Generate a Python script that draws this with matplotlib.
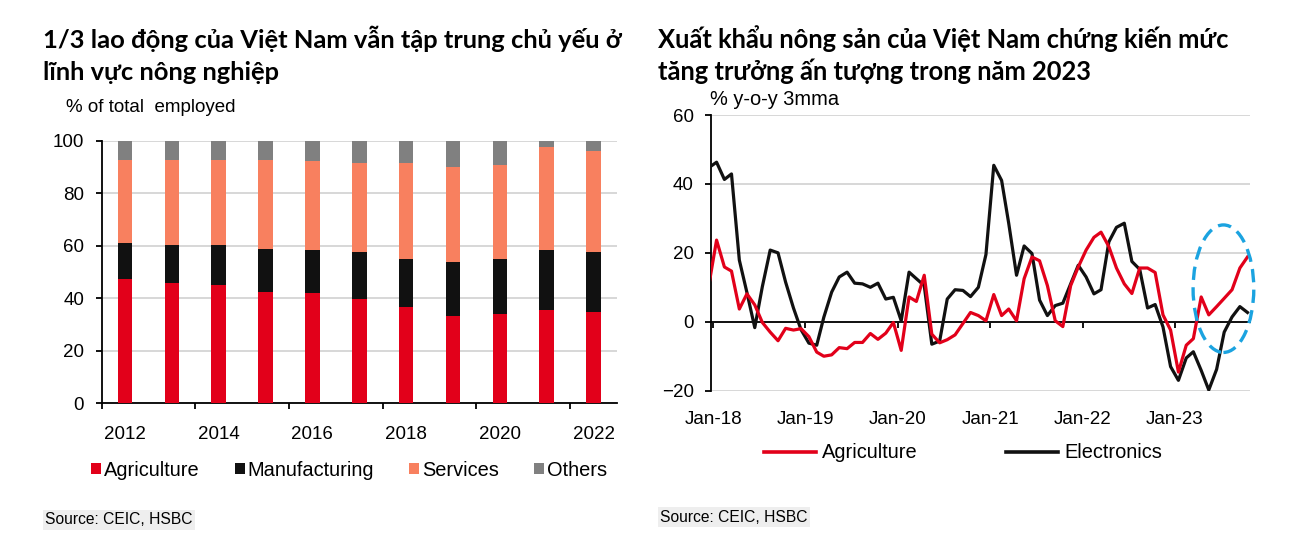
import matplotlib
matplotlib.use("Agg")
import matplotlib.pyplot as plt
import matplotlib.dates as mdates
from matplotlib import font_manager as fm
from matplotlib.patches import Ellipse, Patch
from matplotlib.lines import Line2D
import numpy as np
import pandas as pd

# ---------------- data: left chart (% of total employed) ----------------
years = [2012, 2013, 2014, 2015, 2016, 2017, 2018, 2019, 2020, 2021, 2022]
agriculture = [47.2, 45.9, 45.2, 42.5, 41.9, 39.8, 36.5, 33.2, 33.9, 35.4, 34.6]
manufacturing = [13.7, 14.4, 15.1, 16.4, 16.3, 17.8, 18.4, 20.4, 21.0, 22.8, 23.0]
services = [31.7, 32.3, 32.3, 33.7, 33.9, 33.9, 36.6, 36.5, 35.8, 39.3, 38.5]
others = [7.4, 7.4, 7.4, 7.4, 7.9, 8.5, 8.5, 9.9, 9.3, 2.5, 3.9]
bar_series = ["Agriculture", "Manufacturing", "Services", "Others"]

# ---------------- data: right chart (% y-o-y 3mma) ----------------
months = pd.date_range("2017-12-01", periods=71, freq="MS") + pd.Timedelta(days=14)
agri_exports = [10.4, 23.7, 15.9, 14.7, 3.7, 8.1, 4.9, -0.2, -3.0, -5.5,
                -1.9, -2.4, -2.0, -4.3, -8.8, -10.0, -9.6, -7.5, -7.8, -6.0,
                -6.0, -3.4, -5.1, -3.3, -0.2, -8.3, 7.2, 5.9, 13.5, -3.6,
                -6.1, -5.2, -3.8, -0.5, 2.7, 1.8, 0.3, 7.9, 1.8, 3.7,
                0.3, 12.5, 18.8, 17.7, 10.5, 0.3, -1.4, 10.5, 15.9, 20.8,
                24.5, 26.0, 21.8, 15.6, 11.0, 8.2, 15.6, 15.6, 14.3, 2.0,
                -2.4, -14.6, -6.8, -4.9, 7.2, 2.0, 4.4, 6.8, 9.3, 15.6,
                18.8]
electronics_exports = [44.7, 46.3, 41.3, 42.9, 17.9, 8.5, -1.7, 10.2, 20.8, 20.0,
                       11.5, 4.0, -2.3, -6.2, -6.8, 1.3, 8.6, 13.0, 14.4, 11.2,
                       11.0, 10.0, 11.2, 6.6, 7.1, 0.3, 14.4, 12.5, 10.5, -6.5,
                       -5.6, 6.6, 9.3, 9.1, 7.3, 10.0, 19.5, 45.4, 41.0, 28.6,
                       13.5, 22.0, 19.8, 6.3, 1.8, 4.7, 5.4, 11.0, 16.4, 13.0,
                       8.1, 9.3, 23.2, 27.4, 28.6, 17.5, 15.2, 4.0, 5.0, -1.5,
                       -13.0, -17.0, -10.5, -8.7, -14.1, -19.8, -13.8, -3.0, 1.4, 4.4,
                       2.7]
line_series = ["Agriculture", "Electronics"]
xtick_dates = ["2018-01-01", "2019-01-01", "2020-01-01", "2021-01-01", "2022-01-01", "2023-01-01"]
xtick_labels = ["Jan-18", "Jan-19", "Jan-20", "Jan-21", "Jan-22", "Jan-23"]

title_left = ["1/3 lao động của Việt Nam vẫn tập trung chủ yếu ở", "lĩnh vực nông nghiệp"]
title_right = ["Xuất khẩu nông sản của Việt Nam chứng kiến mức", "tăng trưởng ấn tượng trong năm 2023"]

# ---------------- fonts ----------------
names = {f.name for f in fm.fontManager.ttflist}
if "Liberation Sans Narrow" in names:
    FONT = ["Liberation Sans Narrow", "Liberation Sans", "DejaVu Sans"]
    K = 1.0
else:
    FONT = ["Liberation Sans", "DejaVu Sans"]
    K = 0.9
TITLE_FONT = ["Lato", "Open Sans", "DejaVu Sans"]
plt.rcParams["font.family"] = FONT

RED = "#E2001A"
BLACK = "#111111"
SALMON = "#F8805F"
GREY = "#808080"
GRID = "#d4d4d4"

W, H = 1298, 556
fig = plt.figure(figsize=(W / 100, H / 100), dpi=100)
fig.patch.set_facecolor("white")


def fx(px):
    return px / W


def fy(py):
    return 1 - py / H


TICK = 15 * K
LEG = 16 * K

# ---------------- left chart ----------------
ax1 = fig.add_axes([fx(101.5), fy(403.3), fx(617) - fx(101.5), fy(140.5) - fy(403.3)])
x = np.arange(len(years))
bottom = np.zeros(len(years))
colors = [RED, BLACK, SALMON, GREY]
for vals, col in zip([agriculture, manufacturing, services, others], colors):
    ax1.bar(x, vals, width=0.31, bottom=bottom, color=col, zorder=3, linewidth=0)
    bottom += np.array(vals)
ax1.set_xlim(-0.5, len(years) - 0.5)
ax1.set_ylim(0, 100)
ax1.set_yticks(range(0, 101, 20))
ax1.yaxis.grid(True, color=GRID, lw=1.3, zorder=0)
ax1.set_axisbelow(True)
for s in ["top", "right"]:
    ax1.spines[s].set_visible(False)
for s in ["left", "bottom"]:
    ax1.spines[s].set_color("black")
    ax1.spines[s].set_linewidth(1.3)
ax1.set_xticks(x[::2])
ax1.set_xticklabels([str(y) for y in years[::2]])
ax1.set_xticks(np.arange(-0.5, len(years) - 1, 2), minor=True)
ax1.tick_params(axis="x", which="major", length=0, pad=16, labelsize=TICK)
ax1.tick_params(axis="x", which="minor", length=4.5, width=1.3, direction="out")
ax1.tick_params(axis="y", length=4.5, width=1.3, direction="out", pad=8, labelsize=TICK)
fig.text(fx(66.5), fy(111.5), "% of total  employed", fontsize=15 * K, va="baseline", ha="left")

handles1 = [Patch(facecolor=c, edgecolor="none", label=l) for c, l in zip(colors, bar_series)]
fig.legend(handles=handles1, loc="center", bbox_to_anchor=(fx(349), fy(470)), ncol=4,
           frameon=False, fontsize=LEG, handlelength=0.5, handleheight=0.5,
           handletextpad=0.15, columnspacing=1.75)

# ---------------- right chart ----------------
ax2 = fig.add_axes([fx(711), fy(390.7), fx(1250) - fx(711), fy(115) - fy(390.7)])
ax2.plot(months, electronics_exports, color=BLACK, lw=2.3, zorder=3)
ax2.plot(months, agri_exports, color=RED, lw=2.3, zorder=4)
ax2.set_ylim(-20, 60)
ax2.set_yticks(range(-20, 61, 20))
ax2.set_xlim(pd.Timestamp("2017-12-24"), pd.Timestamp("2023-10-25"))
ax2.set_xticks(pd.to_datetime(xtick_dates))
ax2.set_xticklabels(xtick_labels)
ax2.yaxis.grid(True, color=GRID, lw=1.3, zorder=0)
ax2.set_axisbelow(True)
for s in ["top", "right"]:
    ax2.spines[s].set_visible(False)
ax2.spines["bottom"].set_position(("data", 0))
ax2.spines["bottom"].set_color("black")
ax2.spines["bottom"].set_linewidth(1.3)
ax2.spines["bottom"].set_zorder(2)
ax2.spines["left"].set_color("black")
ax2.spines["left"].set_linewidth(1.3)
ax2.tick_params(axis="x", length=4.5, width=1.3, direction="out", pad=60, labelsize=TICK)
ax2.tick_params(axis="y", length=4.5, width=1.3, direction="out", pad=8, labelsize=TICK)
fig.text(fx(710), fy(105), "% y-o-y 3mma", fontsize=16 * K, va="baseline", ha="left")

# highlighted recent months
ell_center = mdates.date2num(pd.Timestamp("2023-07-12"))
ax2.add_patch(Ellipse((ell_center, 9.6), width=240, height=37, fill=False,
                      edgecolor="#1BA3E0", lw=2.4, linestyle=(0, (4, 2.2)),
                      zorder=5, clip_on=False))

handles2 = [Line2D([], [], color=RED, lw=2.6, label=line_series[0]),
            Line2D([], [], color=BLACK, lw=2.6, label=line_series[1])]
fig.legend(handles=handles2, loc="center", bbox_to_anchor=(fx(963), fy(453)), ncol=2,
           frameon=False, fontsize=LEG, handlelength=2.6, handletextpad=0.3,
           columnspacing=4.4)

# ---------------- titles & sources ----------------
renderer = fig.canvas.get_renderer()


def fitted_title(x0, lines, target_w):
    t1 = fig.text(fx(x0), fy(48), lines[0], fontsize=20, fontweight="bold",
                  family=TITLE_FONT, va="baseline", ha="left")
    w = t1.get_window_extent(renderer).width
    fs = 20 * target_w / w
    t1.set_fontsize(fs)
    fig.text(fx(x0), fy(80), lines[1], fontsize=fs, fontweight="bold",
             family=TITLE_FONT, va="baseline", ha="left")


fitted_title(43, title_left, 577)
fitted_title(658, title_right, 570)

for x0, y0 in [(45, 520), (660, 517)]:
    fig.text(fx(x0), fy(y0), "Source: CEIC, HSBC", fontsize=12.5 * K, va="center", ha="left",
             bbox=dict(facecolor="#eeeeee", edgecolor="none", pad=1.5))

fig.savefig("out.png", dpi=100, facecolor="white")
